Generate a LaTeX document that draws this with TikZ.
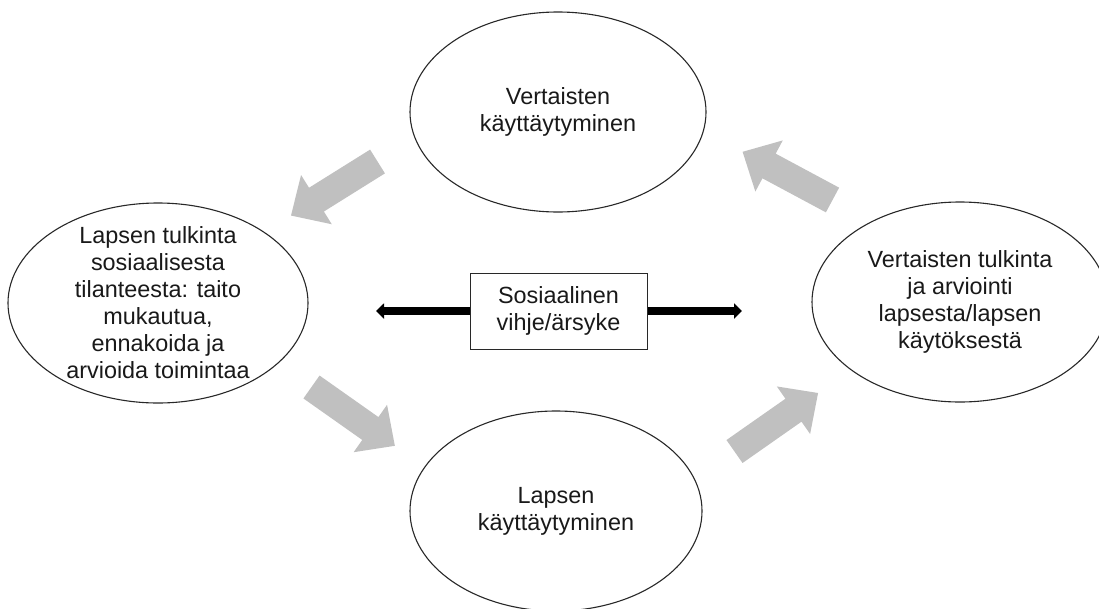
\documentclass[tikz,border=0pt]{standalone}
\usepackage{fontspec}
\setmainfont{Liberation Sans}
\usetikzlibrary{shapes.geometric,arrows.meta}
\definecolor{arrowgray}{RGB}{192,192,192}
\definecolor{linegray}{RGB}{40,40,40}
\definecolor{txtcol}{RGB}{25,25,25}
\tikzset{
  bubble/.style={ellipse,draw=linegray,line width=1.1pt,minimum width=296pt,minimum height=200pt,inner sep=0pt},
  txt/.style={align=center,text=txtcol,font=\fontsize{23.4}{27}\selectfont,inner sep=0pt},
  cuebox/.style={draw=linegray,line width=1pt,minimum width=177pt,minimum height=76pt,inner sep=0pt,align=center,text=txtcol,font=\fontsize{23.4}{27}\selectfont},
  cue/.style={line width=7.5pt,black,-{Triangle[length=8pt,width=15pt]}},
  blockarrow/.pic={\fill[arrowgray] (0,-14) -- (72,-14) -- (72,-29) -- (102,0) -- (72,29) -- (72,14) -- (0,14) -- cycle;}
}
\begin{document}
\begin{tikzpicture}[x=1pt,y=-1pt]
\useasboundingbox (0,0) rectangle (1099,608);
\clip (0,0) rectangle (1099,608);
\fill[white] (0,0) rectangle (1099,608);
% ellipses
\node[bubble] (top) at (558,112) {};
\node[txt] (toptxt) at (top.center) {Vertaisten\\käyttäytyminen};
\node[bubble,minimum width=300pt] (left) at (158,303) {};
\node[txt] (lefttxt) at (left.center) {Lapsen tulkinta\\sosiaalisesta\\tilanteesta: taito\\mukautua,\\ennakoida ja\\arvioida toimintaa};
\node[bubble] (right) at (960,302) {};
\node[txt] (righttxt) at (right.center) {Vertaisten tulkinta\\ja arviointi\\lapsesta/lapsen\\käytöksestä};
\node[bubble,minimum width=292pt] (bottom) at (556,511) {};
\node[txt] (bottomtxt) at (bottom.center) {Lapsen\\käyttäytyminen};
% central cue
\node[cuebox] (cuebox) at (558.5,311) {Sosiaalinen\\vihje/ärsyke};
\coordinate (cueL) at (376,311);
\coordinate (cueR) at (742,311);
\draw[cue] (cuebox.west) -- (cueL);
\draw[cue] (cuebox.east) -- (cueR);
% block arrows
\pic[rotate=212] at (377.5,161.5) {blockarrow};
\pic[rotate=-35.2] at (311.5,387) {blockarrow};
\pic[rotate=35] at (734.5,451.5) {blockarrow};
\pic[rotate=151.8] at (832.5,200) {blockarrow};
\end{tikzpicture}
\end{document}
